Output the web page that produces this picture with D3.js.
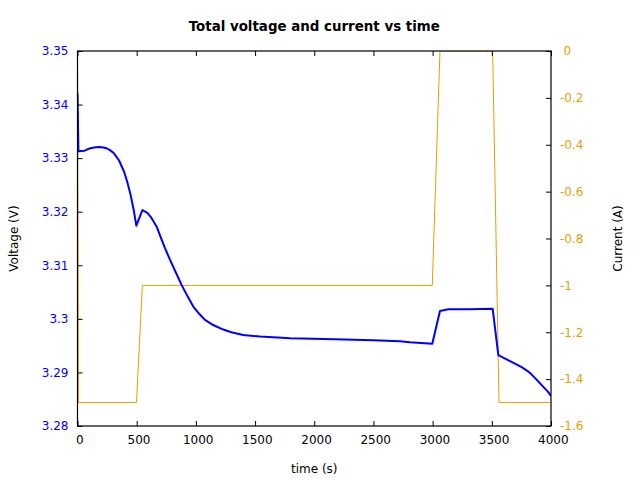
<!DOCTYPE html>
<html><head><meta charset="utf-8">
<script src="https://cdn.jsdelivr.net/npm/d3@7"></script>
<style>body{margin:0;background:#fff}svg{display:block}text{font-family:"DejaVu Sans",sans-serif}</style>
</head><body><svg id="c" width="640" height="480"></svg>
<script>
const voltTime = [0, 8, 60, 100, 140, 182, 220, 250, 280, 308, 350, 393, 420, 449, 475, 497, 548, 590, 620, 669, 700, 739, 780, 830, 880, 930, 978, 1030, 1077, 1150, 1232, 1300, 1400, 1542, 1800, 2175, 2500, 2724, 2809, 2997, 3062, 3133, 3300, 3507, 3555, 3600, 3654, 3700, 3752, 3800, 3837, 3880, 3935, 3970, 4000];
const voltage = [3.3421, 3.3313, 3.3314, 3.3318, 3.3320, 3.3321, 3.3320, 3.3318, 3.3314, 3.3309, 3.3296, 3.3275, 3.3256, 3.3231, 3.3203, 3.3174, 3.3203, 3.3198, 3.3190, 3.3172, 3.3154, 3.3132, 3.3111, 3.3087, 3.3063, 3.3042, 3.3023, 3.3009, 3.2998, 3.2988, 3.2980, 3.2975, 3.2970, 3.2967, 3.2964, 3.2962, 3.2960, 3.2958, 3.29562, 3.29536, 3.30147, 3.30178, 3.3018, 3.3019, 3.29325, 3.2927, 3.2921, 3.2916, 3.2910, 3.2903, 3.2896, 3.2886, 3.2873, 3.2865, 3.2856];
const currTime = [0, 8, 498, 548, 2997, 3062, 3507, 3561, 4000];
const current = [0, -1.5, -1.5, -1, -1, 0, 0, -1.5, -1.5];
const xTicks = [0, 500, 1000, 1500, 2000, 2500, 3000, 3500, 4000];
const vTicks = [3.28, 3.29, 3.3, 3.31, 3.32, 3.33, 3.34, 3.35];
const iTicks = [0, -0.2, -0.4, -0.6, -0.8, -1, -1.2, -1.4, -1.6];

const svg = d3.select("#c");
const L = 77.5, R = 551, T = 51, B = 426;
const x = d3.scaleLinear().domain([0, 4000]).range([L, R]);
const yV = d3.scaleLinear().domain([3.28, 3.35]).range([B, T]);
const yI = d3.scaleLinear().domain([-1.6, 0]).range([B, T]);
const blue = "#0000ff", orange = "#e69f00";

svg.append("defs").append("clipPath").attr("id", "clip")
  .append("rect").attr("x", L).attr("y", T).attr("width", R - L).attr("height", B - T);

const g = svg.append("g").attr("clip-path", "url(#clip)");
g.append("path").datum(currTime.map((t, i) => [t, current[i]]))
  .attr("fill", "none").attr("stroke", orange).attr("stroke-width", 1)
  .attr("d", d3.line().x(d => x(d[0])).y(d => yI(d[1])));
g.append("path").datum(voltTime.map((t, i) => [t, voltage[i]]))
  .attr("fill", "none").attr("stroke", blue).attr("stroke-width", 2).attr("stroke-linejoin", "round")
  .attr("d", d3.line().x(d => x(d[0])).y(d => yV(d[1])));

function style(sel, color) {
  sel.select(".domain").remove();
  sel.selectAll(".tick line").attr("stroke", "#000");
  sel.selectAll(".tick text").attr("fill", color).style("font-size", "12px").style("font-family", "DejaVu Sans");
}
const tl = 5;
svg.append("g").attr("transform", `translate(0,${B})`)
  .call(d3.axisBottom(x).tickValues(xTicks).tickSizeInner(-tl).tickSizeOuter(0).tickPadding(9).tickFormat(d => d))
  .call(s => style(s, "#000"))
  .call(s => s.selectAll(".tick text").attr("dx", "0.15em"));
svg.append("g").attr("transform", `translate(0,${T})`)
  .call(d3.axisTop(x).tickValues(xTicks).tickSizeInner(-tl).tickSizeOuter(0).tickFormat(""))
  .call(s => style(s, "#000"));
svg.append("g").attr("transform", `translate(${L},0)`)
  .call(d3.axisLeft(yV).tickValues(vTicks).tickSizeInner(-tl).tickSizeOuter(0).tickPadding(9).tickFormat(d => String(+d.toFixed(2))))
  .call(s => style(s, blue));
svg.append("g").attr("transform", `translate(${R},0)`)
  .call(d3.axisRight(yI).tickValues(iTicks).tickSizeInner(-tl).tickSizeOuter(0).tickPadding(9).tickFormat(d => String(Math.round(d * 10) / 10)))
  .call(s => style(s, orange))
  .call(s => s.selectAll(".tick text").filter(d => d === 0).attr("dx", "0.3em"));

svg.append("rect").attr("x", L).attr("y", T).attr("width", R - L).attr("height", B - T)
  .attr("fill", "none").attr("stroke", "#000").attr("stroke-width", 1.2);

svg.append("text").attr("x", (L + R) / 2).attr("y", 31).attr("text-anchor", "middle")
  .style("font-size", "13.4px").style("font-weight", "bold").text("Total voltage and current vs time");
svg.append("text").attr("x", (L + R) / 2).attr("y", 473).attr("text-anchor", "middle")
  .style("font-size", "12px").text("time (s)");
svg.append("text").attr("transform", `translate(18,${(T + B) / 2}) rotate(-90)`).attr("text-anchor", "middle")
  .style("font-size", "12px").text("Voltage (V)");
svg.append("text").attr("transform", `translate(622,${(T + B) / 2}) rotate(-90)`).attr("text-anchor", "middle")
  .style("font-size", "12px").text("Current (A)");
</script></body></html>
